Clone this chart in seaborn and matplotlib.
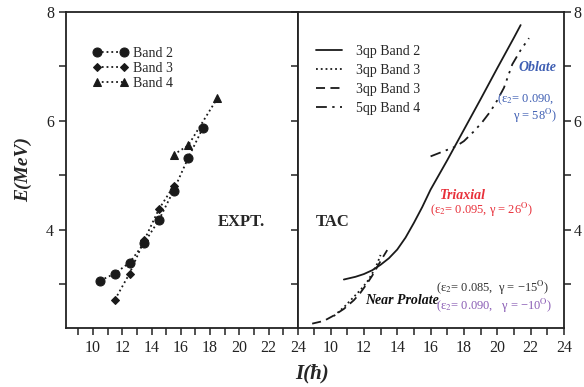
import numpy as np
import pandas as pd
import matplotlib.pyplot as plt
import seaborn as sns
from matplotlib.ticker import MultipleLocator

# experimental bands (spin, energy)
band2_I = [10.5, 11.5, 12.5, 13.5, 14.5, 15.5, 16.5, 17.5]
band2_E = [3.07, 3.20, 3.40, 3.76, 4.18, 4.72, 5.32, 5.87]
band3_I = [11.5, 12.5, 13.5, 14.5, 15.5]
band3_E = [2.72, 3.20, 3.81, 4.38, 4.80]
band4_I = [15.5, 16.5, 18.5]
band4_E = [5.38, 5.55, 6.42]

# TAC calculations
tac2_I = [10.8, 11.5, 12.0, 12.5, 13.0, 13.5, 14.0, 14.5, 15.0, 15.5, 16.0, 17.0, 18.0, 19.0, 20.0, 21.0, 21.4]
tac2_E = [3.09, 3.14, 3.19, 3.26, 3.36, 3.48, 3.64, 3.86, 4.13, 4.42, 4.74, 5.28, 5.84, 6.40, 6.97, 7.53, 7.76]
tac3a_I = [10.2, 10.8, 11.3, 11.8, 12.2, 12.5, 12.8, 13.0]
tac3a_E = [2.42, 2.58, 2.74, 2.90, 3.05, 3.20, 3.38, 3.54]
tac3b_I = [8.9, 9.6, 10.2, 10.8, 11.4, 11.8, 12.2, 12.5, 12.8, 13.1, 13.4]
tac3b_E = [2.28, 2.33, 2.43, 2.55, 2.71, 2.85, 3.02, 3.16, 3.32, 3.48, 3.63]
tac4_I = [16.0, 17.0, 17.5, 18.0, 18.6, 19.1, 19.6, 20.0, 20.4, 20.9, 21.4, 21.9]
tac4_E = [5.35, 5.47, 5.53, 5.63, 5.81, 5.98, 6.18, 6.38, 6.61, 7.04, 7.30, 7.52]

sns.set_theme(style="ticks")
plt.rcParams['font.family'] = ['Liberation Serif', 'DejaVu Serif']
plt.rcParams['mathtext.fontset'] = 'stix'
plt.rcParams['axes.linewidth'] = 1.3

fig = plt.figure(figsize=(5.84, 3.87), dpi=100)
ax1 = fig.add_axes([66/584, 1 - 328/387, 232/584, 316/387])
ax2 = fig.add_axes([298/584, 1 - 328/387, 266/584, 316/387])

# left panel: experiment
sns.lineplot(x=band2_I, y=band2_E, ax=ax1, color='k', marker='o', markersize=6.5,
             linestyle=':', linewidth=1.3, markeredgecolor='k', label='Band 2')
sns.lineplot(x=band3_I, y=band3_E, ax=ax1, color='k', marker='D', markersize=4.5,
             linestyle=':', linewidth=1.3, markeredgecolor='k', label='Band 3')
sns.lineplot(x=band4_I, y=band4_E, ax=ax1, color='k', marker='^', markersize=6,
             linestyle=':', linewidth=1.3, markeredgecolor='k', label='Band 4')
ax1.legend(loc='upper left', bbox_to_anchor=(0.06, 0.93), frameon=False, numpoints=2,
           fontsize=10, handlelength=2.6, handletextpad=0.3, labelspacing=0.15)
ax1.text(18.5, 4.15, 'EXPT.', fontsize=12, fontweight='bold', va='center')

# right panel: TAC
sns.lineplot(x=tac2_I, y=tac2_E, ax=ax2, color='k', linewidth=1.3, label='3qp Band 2')
sns.lineplot(x=tac3a_I, y=tac3a_E, ax=ax2, color='k', linewidth=1.3, linestyle=':', label='3qp Band 3')
sns.lineplot(x=tac3b_I, y=tac3b_E, ax=ax2, color='k', linewidth=1.3, dashes=False,
             label='3qp Band 3').lines[-1].set_dashes((5, 3))
sns.lineplot(x=tac4_I, y=tac4_E, ax=ax2, color='k', linewidth=1.3, dashes=False,
             label='5qp Band 4').lines[-1].set_dashes((6, 3, 1.3, 3, 1.3, 3))
leg = ax2.legend(loc='upper left', bbox_to_anchor=(0.02, 0.935), frameon=False, fontsize=10,
                 handlelength=1.9, handletextpad=1.0, labelspacing=0.42)
leg.get_lines()[2].set_dashes((5, 3))
leg.get_lines()[3].set_dashes((6, 3, 1.3, 3, 1.3, 3))
ax2.text(9.1, 4.15, 'TAC', fontsize=12, fontweight='bold', va='center')

blue, red, purple, dark = '#3f5fb3', '#e8303a', '#8a5db5', '#333333'
ax2.text(22.4, 6.98, 'Oblate', color=blue, fontsize=10, fontweight='bold', style='italic',
         ha='center', va='center')
ax2.text(23.4, 6.39, r'(ε$_2$= 0.090,', color=blue, fontsize=9, ha='right', va='center')
ax2.text(23.6, 6.09, r'γ = 58$^{\mathrm{O}}$)', color=blue, fontsize=9, ha='right', va='center')
ax2.text(17.95, 4.63, 'Triaxial', color=red, fontsize=10, fontweight='bold', style='italic',
         ha='center', va='center')
ax2.text(19.05, 4.36, r'(ε$_2$= 0.095, γ = 26$^{\mathrm{O}}$)', color=red, fontsize=9,
         ha='center', va='center')
ax2.text(19.75, 2.93, r'(ε$_2$= 0.085,  γ = −15$^{\mathrm{O}}$)', color=dark, fontsize=9,
         ha='center', va='center')
ax2.text(14.3, 2.71, 'Near Prolate', color='#111111', fontsize=10, fontweight='bold',
         style='italic', ha='center', va='center')
ax2.text(19.8, 2.61, r'(ε$_2$= 0.090,   γ = −10$^{\mathrm{O}}$)', color=purple, fontsize=9,
         ha='center', va='center')

# axes formatting
ax1.set_xlim(8.16, 24)
ax2.set_xlim(8.05, 24)
for ax in (ax1, ax2):
    ax.set_ylim(2.2, 8)
    ax.xaxis.set_major_locator(MultipleLocator(2))
    ax.xaxis.set_minor_locator(MultipleLocator(1))
    ax.yaxis.set_major_locator(MultipleLocator(2))
    ax.yaxis.set_minor_locator(MultipleLocator(1))
    ax.tick_params(which='both', direction='out', length=5, width=1.1, labelsize=11.5,
                   colors='#222222', top=False)
    ax.set_xlabel('')
    ax.set_ylabel('')
    for s in ax.spines.values():
        s.set_visible(True)
        s.set_color('#222222')

ax1.tick_params(axis='y', which='both', left=True, right=False)
ax2.tick_params(axis='y', which='both', left=True, right=True, labelleft=False,
                labelright=True, pad=2)

ax1.set_ylabel('E(MeV)', fontsize=14, fontweight='bold', style='italic', labelpad=10)
fig.text(312/584, 1 - 373/387, 'I(ħ)', fontsize=15, fontweight='bold', style='italic',
         ha='center', va='center')

fig.savefig('out.png', dpi=100)
